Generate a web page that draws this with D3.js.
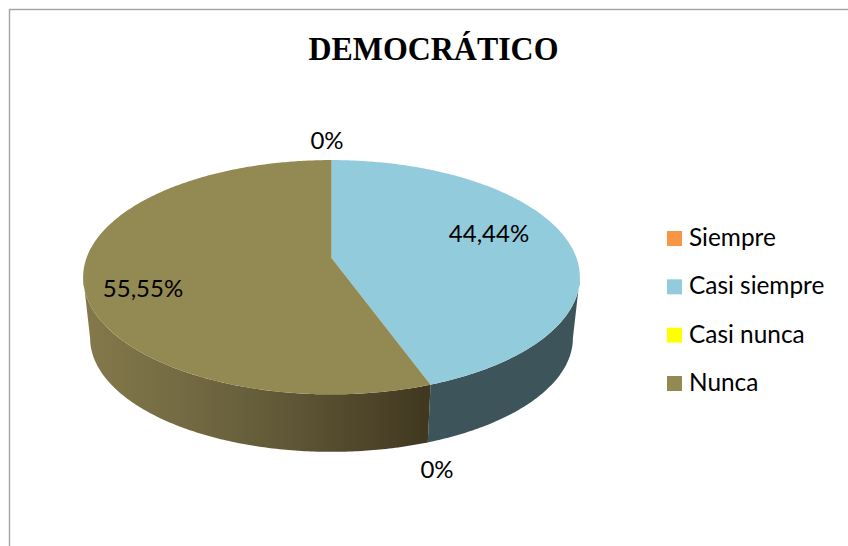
<!DOCTYPE html>
<html>
<head>
<meta charset="utf-8">
<script src="https://cdn.jsdelivr.net/npm/d3@7"></script>
<style>
html,body{margin:0;padding:0;background:#fff;overflow:hidden}
svg{display:block}
text{font-family:Lato,"Open Sans",sans-serif;fill:#000}
</style>
</head>
<body>
<svg id="c" width="848" height="546"></svg>
<script>
const titleText = "DEMOCRÁTICO";
const categories = ["Siempre", "Casi siempre", "Casi nunca", "Nunca"];
const values = [0, 44.44, 0, 55.55];
const valueLabels = ["0%", "44,44%", "0%", "55,55%"];
const colors = ["#F79646", "#92CBDC", "#FFFF00", "#938953"];

const svg = d3.select("#c");
const defs = svg.append("defs");

// frame
svg.append("rect").attr("x", 9.5).attr("y", 9.5).attr("width", 860).attr("height", 560)
  .attr("fill", "#fff").attr("stroke", "#a3a3a3").attr("stroke-width", 1.4);

svg.append("text").text(titleText).attr("x", 433.5).attr("y", 60).attr("text-anchor", "middle")
  .attr("textLength", 250).attr("lengthAdjust", "spacingAndGlyphs")
  .style("font-family", '"Liberation Serif",serif').style("font-weight", 700).style("font-size", "34px");

// perspective view of the disc
const cx = 331.5, p = 0.164;
const project = (a, apexY, k) => {
  const u = Math.sin(a), v = -Math.cos(a), w = 1 - p * v;
  return [cx + k * 245 * u / w, apexY + k * 114 * v / w];
};
const topRim = a => project(a, 258, 1);
const bottomRim = a => project(a, 319.3, 0.972);
const sweep = (a0, a1) => {
  const n = Math.max(2, Math.ceil((a1 - a0) * 90));
  return d3.range(n + 1).map(i => a0 + (a1 - a0) * i / n);
};
const line = d3.line();

const slices = d3.pie().sort(null).value(d => d.value)(
  categories.map((c, i) => ({c, value: values[i], color: colors[i]}))
);

// visible wall spans silhouette to silhouette, through the front
const visA0 = Math.PI - Math.acos(p), visA1 = Math.PI + Math.acos(p);
const walls = svg.append("g");
slices.filter(s => s.value > 0).forEach((s, i) => {
  const a0 = Math.max(s.startAngle, visA0), a1 = Math.min(s.endAngle, visA1);
  if (a1 <= a0) return;
  const as = sweep(a0, a1);
  const d = line(as.map(topRim).concat(as.slice().reverse().map(bottomRim))) + "Z";
  let fill;
  if (s.data.c === "Nunca") {
    const g = defs.append("linearGradient").attr("id", "wallN").attr("gradientUnits", "userSpaceOnUse")
      .attr("x1", topRim(a1)[0]).attr("x2", topRim(a0)[0]).attr("y1", 0).attr("y2", 0);
    [[0, "#84794b"], [0.3, "#736a43"], [0.6, "#5f5636"], [1, "#403720"]].forEach(t =>
      g.append("stop").attr("offset", t[0]).attr("stop-color", t[1]));
    fill = "url(#wallN)";
  } else {
    fill = "#3E545B";
  }
  walls.append("path").attr("d", d).attr("fill", fill);
});

// top face
const faces = svg.append("g");
slices.filter(s => s.value > 0).forEach(s => {
  const pts = [[cx, 258]].concat(sweep(s.startAngle, s.endAngle).map(topRim));
  faces.append("path").attr("d", line(pts) + "Z").attr("fill", s.data.color);
});

// data labels
const labelPos = [[327, 148.5], [489, 242], [437, 477.5], [143, 296.5]];
svg.append("g").selectAll("text").data(valueLabels).join("text")
  .text(d => d).attr("text-anchor", "middle")
  .attr("x", (d, i) => labelPos[i][0]).attr("y", (d, i) => labelPos[i][1])
  .style("font-size", "24px");

// legend
const legY = d3.scalePoint().domain(categories).range([238.5, 383.5]);
const leg = svg.append("g").selectAll("g").data(categories).join("g")
  .attr("transform", d => `translate(667,${legY(d)})`);
leg.append("rect").attr("x", 0).attr("y", -7.5).attr("width", 15).attr("height", 15)
  .attr("fill", (d, i) => colors[i]);
leg.append("text").text(d => d).attr("x", 22).attr("y", 7.5).style("font-size", "24.4px");
</script>
</body>
</html>
